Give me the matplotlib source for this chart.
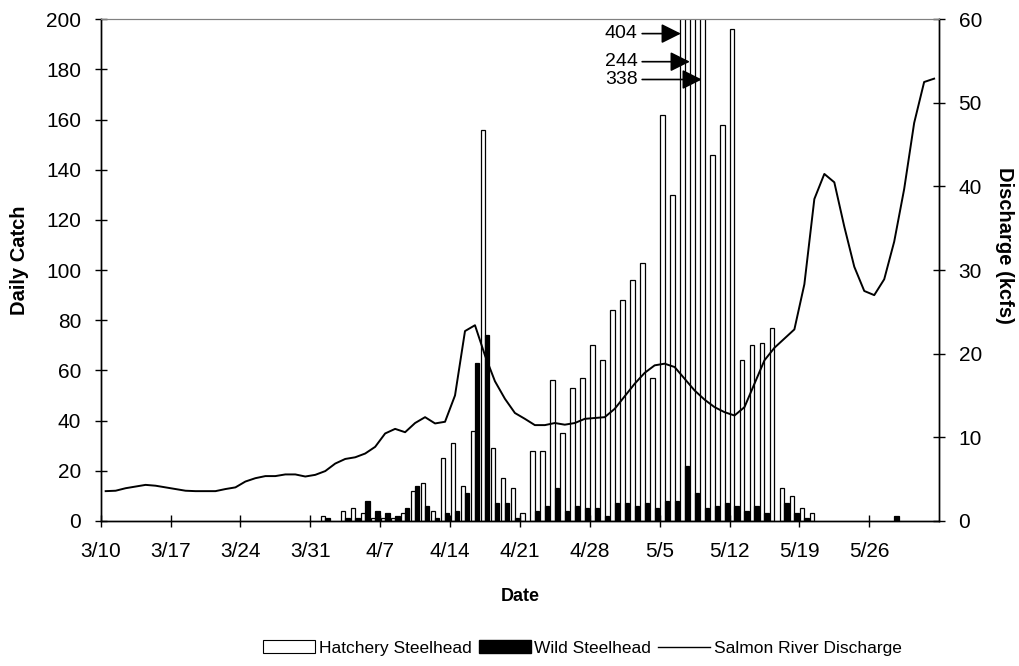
import numpy as np
import pandas as pd
import matplotlib
matplotlib.use('Agg')
from matplotlib import pyplot as plt
from matplotlib.patches import Patch
from matplotlib.lines import Line2D

plt.rcParams['font.family'] = ['Liberation Sans', 'DejaVu Sans']

# trap season, one slot per day
days = pd.date_range('2003-03-10', '2003-06-01')
day_labels = [f"{d.month}/{d.day}" for d in days]

hatch_dates = ['4/1', '4/3', '4/4', '4/5', '4/6', '4/7', '4/8', '4/9', '4/10', '4/11',
               '4/12', '4/13', '4/14', '4/15', '4/16', '4/17', '4/18', '4/19', '4/20', '4/21',
               '4/22', '4/23', '4/24', '4/25', '4/26', '4/27', '4/28', '4/29', '4/30', '5/1',
               '5/2', '5/3', '5/4', '5/5', '5/6', '5/7', '5/8', '5/9', '5/10', '5/11',
               '5/12', '5/13', '5/14', '5/15', '5/16', '5/17', '5/18', '5/19', '5/20']
hatch_counts = [2, 4, 5, 3, 1, 1, 1, 3, 12, 15,
                4, 25, 31, 14, 36, 156, 29, 17, 13, 3,
                28, 28, 56, 35, 53, 57, 70, 64, 84, 88,
                96, 103, 57, 162, 130, 404, 244, 338, 146, 158,
                196, 64, 70, 71, 77, 13, 10, 5, 3]

wild_dates = ['4/1', '4/3', '4/4', '4/5', '4/6', '4/7', '4/8', '4/9', '4/10', '4/11',
              '4/12', '4/13', '4/14', '4/15', '4/16', '4/17', '4/18', '4/19', '4/20',
              '4/22', '4/23', '4/24', '4/25', '4/26', '4/27', '4/28', '4/29', '4/30', '5/1',
              '5/2', '5/3', '5/4', '5/5', '5/6', '5/7', '5/8', '5/9', '5/10', '5/11',
              '5/12', '5/13', '5/14', '5/15', '5/17', '5/18', '5/19', '5/28']
wild_counts = [1, 1, 1, 8, 4, 3, 2, 5, 14, 6,
               1, 3, 4, 11, 63, 74, 7, 7, 1,
               4, 6, 13, 4, 6, 5, 5, 2, 7, 7,
               6, 7, 5, 8, 8, 22, 11, 5, 6, 7,
               6, 4, 6, 3, 7, 3, 1, 2]

# Salmon River discharge (kcfs), 3/10 - 6/1
discharge = [3.55, 3.6, 3.9, 4.1, 4.3, 4.2, 4.0, 3.8, 3.6, 3.55,
             3.55, 3.55, 3.8, 4.0, 4.7, 5.1, 5.35, 5.35, 5.55, 5.55,
             5.3, 5.5, 5.95, 6.85, 7.4, 7.6, 8.05, 8.85, 10.45, 11.0,
             10.6, 11.7, 12.4, 11.65, 11.85, 15.0, 22.7, 23.4, 19.8, 16.7,
             14.6, 12.9, 12.2, 11.45, 11.45, 11.7, 11.5, 11.7, 12.2, 12.3,
             12.4, 13.4, 14.9, 16.4, 17.7, 18.6, 18.8, 18.4, 17.0, 15.6,
             14.5, 13.6, 13.0, 12.6, 13.6, 16.4, 19.2, 20.7, 21.8, 22.9,
             28.3, 38.5, 41.5, 40.5, 35.2, 30.4, 27.5, 27.0, 28.9, 33.4,
             39.7, 47.6, 52.5, 52.9]

# off-scale bars get labelled with arrows
big_labels = ['404', '244', '338']

hatch_x = np.array([day_labels.index(s) for s in hatch_dates])
wild_x = np.array([day_labels.index(s) for s in wild_dates])
x_all = np.arange(len(days))

fig = plt.figure(figsize=(10.2, 6.66), dpi=100)
ax = fig.add_axes([0.0987, 0.218, 0.822, 0.753])
ax2 = ax.twinx()

bw = 0.44
ax.bar(hatch_x - 0.22, hatch_counts, width=bw, color='white', edgecolor='black', linewidth=0.9)
ax.bar(wild_x + 0.22, wild_counts, width=bw, color='black', edgecolor='black', linewidth=0.9)
ax2.plot(x_all, discharge, color='black', lw=1.4)

ax.set_xlim(-0.5, len(days) - 0.5)
ax.set_ylim(0, 200)
ax2.set_ylim(0, 60)
ax.set_yticks(np.arange(0, 201, 20))
ax2.set_yticks(np.arange(0, 61, 10))
ticks = np.arange(0, len(days) - 1, 7)
ax.set_xticks(ticks - 0.5)
ax.set_xticklabels([day_labels[t] for t in ticks])

for a in (ax, ax2):
    a.tick_params(axis='both', direction='inout', length=8, width=1, labelsize=15)
    a.tick_params(axis='y', pad=10)
    a.tick_params(axis='x', pad=11)
    a.spines['top'].set_color('0.5')
    a.spines['left'].set_linewidth(1)
    a.spines['right'].set_linewidth(1)
    a.spines['bottom'].set_linewidth(1)

ax.set_xlabel('Date', fontsize=13, fontweight='bold', labelpad=20)
ax.set_ylabel('Daily Catch', fontsize=14.5, fontweight='bold')
ax.yaxis.set_label_coords(-0.086, 0.52)
ax2.set_ylabel('Discharge (kcfs)', fontsize=14.5, fontweight='bold', rotation=-90)
ax2.yaxis.set_label_coords(1.089, 0.55)

# arrows for the three clipped bars
tips = [(57.63, 194.3), (58.53, 183.1), (59.73, 176.0)]
for lab, (tx, ty) in zip(big_labels, tips):
    ax.annotate('', xy=(tx, ty), xytext=(53.75, ty),
                arrowprops=dict(arrowstyle='-|>,head_length=0.6,head_width=0.3',
                                color='black', lw=1.2, shrinkA=0, shrinkB=0,
                                mutation_scale=20))
    ax.text(53.3, ty, lab, ha='right', va='center', fontsize=14)

handles = [Patch(facecolor='white', edgecolor='black', linewidth=0.8, label='Hatchery Steelhead'),
           Patch(facecolor='black', edgecolor='black', label='Wild Steelhead'),
           Line2D([], [], color='black', lw=1, label='Salmon River Discharge')]
fig.legend(handles=handles, loc='center', bbox_to_anchor=(0.571, 0.027), ncol=3, frameon=False,
           fontsize=12.5, handlelength=3.0, handleheight=0.7, handletextpad=0.2,
           columnspacing=0.4)

fig.savefig('out.png', dpi=100)
